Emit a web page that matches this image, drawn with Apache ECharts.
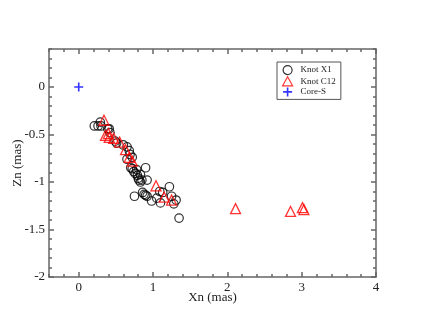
<!DOCTYPE html>
<html>
<head>
<meta charset="utf-8">
<script src="https://cdn.jsdelivr.net/npm/echarts@6/dist/echarts.min.js"></script>
<style>
  html, body { margin: 0; padding: 0; background: #fff; }
  #chart { width: 423px; height: 327px; }
</style>
</head>
<body>
<div id="chart"></div>
<script>
// Knot X1 positions (mas)
const x1Xn = [0.21, 0.26, 0.30, 0.29, 0.39, 0.41, 0.42, 0.49, 0.51, 0.60, 0.65, 0.68, 0.69, 0.65, 0.72,
  0.70, 0.72, 0.74, 0.78, 0.76, 0.79, 0.83, 0.80, 0.81, 0.83, 0.85, 0.90, 0.92, 0.75, 0.86,
  0.88, 0.90, 0.92, 0.98, 1.05, 1.09, 1.13, 1.10, 1.22, 1.25, 1.31, 1.28, 1.35];
const x1Zn = [-0.41, -0.41, -0.41, -0.37, -0.44, -0.44, -0.48, -0.57, -0.59, -0.61, -0.63, -0.67, -0.71, -0.76, -0.74,
  -0.85, -0.86, -0.89, -0.87, -0.91, -0.93, -0.92, -0.96, -0.98, -1.00, -0.98, -0.85, -0.98, -1.15, -1.11,
  -1.13, -1.14, -1.15, -1.20, -1.17, -1.10, -1.11, -1.22, -1.05, -1.15, -1.19, -1.23, -1.38];

// Knot C12 positions (mas)
const c12Xn = [0.34, 0.36, 0.40, 0.41, 0.47, 0.55, 0.63, 0.68, 0.72, 1.04, 1.15, 1.25, 2.11, 2.85, 3.01, 3.03];
const c12Zn = [-0.35, -0.51, -0.49, -0.53, -0.54, -0.58, -0.66, -0.74, -0.78, -1.04, -1.16, -1.19, -1.28, -1.31, -1.27, -1.29];

// Core
const coreXn = [0];
const coreZn = [0];

const xTicks = [0, 1, 2, 3, 4];
const yTicks = [-2, -1.5, -1, -0.5, 0];

const pairs = (xs, ys) => xs.map((x, i) => [x, ys[i]]);

const chart = echarts.init(document.getElementById("chart"));

const frame = { color: "#666", width: 1.5 };
const font = "Liberation Serif, Times New Roman, serif";
const label = { color: "#222", fontFamily: font, fontSize: 13 };

// major + minor axes on each side (minor axes only draw ticks)
const xMajor = (pos) => ({
  type: "value", position: pos, min: -0.4, max: 4,
  axisLine: { show: true, onZero: false, lineStyle: frame },
  axisTick: { show: true, inside: true, length: 5, customValues: xTicks, lineStyle: frame },
  axisLabel: pos === "bottom" ? { show: true, customValues: xTicks, margin: 4, ...label } : { show: false },
  splitLine: { show: false },
});
const xMinor = (pos) => ({
  type: "value", position: pos, min: -0.4, max: 4, interval: 0.2,
  axisLine: { show: false, onZero: false },
  axisTick: { show: true, inside: true, length: 3, lineStyle: frame },
  axisLabel: { show: false },
  splitLine: { show: false },
});
const yMajor = (pos) => ({
  type: "value", position: pos, min: -2, max: 0.4,
  axisLine: { show: true, onZero: false, lineStyle: frame },
  axisTick: { show: true, inside: true, length: 5, customValues: yTicks, lineStyle: frame },
  axisLabel: pos === "left" ? { show: true, customValues: yTicks, margin: 4, ...label } : { show: false },
  splitLine: { show: false },
});
const yMinor = (pos) => ({
  type: "value", position: pos, min: -2, max: 0.4, interval: 0.1,
  axisLine: { show: false, onZero: false },
  axisTick: { show: true, inside: true, length: 3, lineStyle: frame },
  axisLabel: { show: false },
  splitLine: { show: false },
});

const xAxes = [
  { ...xMajor("bottom"), name: "Xn (mas)", nameLocation: "middle", nameGap: 14, nameMoveOverlap: false,
    nameTextStyle: { color: "#222", fontFamily: font, fontSize: 13 } },
  xMinor("bottom"), xMajor("top"), xMinor("top"),
];
const yAxes = [
  { ...yMajor("left"), name: "Zn (mas)", nameLocation: "middle", nameGap: 25, nameMoveOverlap: false,
    nameTextStyle: { color: "#222", fontFamily: font, fontSize: 13 } },
  yMinor("left"), yMajor("right"), yMinor("right"),
];

const plus = "path://M4.1,0h1.8v4.1h4.1v1.8h-4.1v4.1h-1.8v-4.1h-4.1v-1.8h4.1z";

const options = {
  animation: false,
  grid: { left: 49, right: 47, top: 49, bottom: 50 },
  legend: {
    orient: "vertical",
    left: 277,
    top: 62,
    padding: [3, 5, 3, 5],
    itemGap: 1,
    itemWidth: 10,
    itemHeight: 9,
    borderColor: "#555",
    borderWidth: 1,
    textStyle: { color: "#222", fontFamily: font, fontSize: 9, padding: [0, 0, 0, 3] },
    data: [
      { name: "Knot X1", icon: "circle", itemStyle: { color: "transparent", borderColor: "#000", borderWidth: 1.2 } },
      { name: "Knot C12", icon: "triangle", itemStyle: { color: "transparent", borderColor: "#f00", borderWidth: 1.2 } },
      { name: "Core-S", icon: plus, itemStyle: { color: "#00f" } },
    ],
  },
  xAxis: xAxes,
  yAxis: yAxes,
  series: [
    {
      name: "Knot X1", type: "scatter", symbol: "circle", symbolSize: 8.5,
      itemStyle: { color: "transparent", borderColor: "#000", borderWidth: 1.2 },
      data: pairs(x1Xn, x1Zn),
    },
    {
      name: "Knot C12", type: "scatter", symbol: "triangle", symbolSize: 10,
      itemStyle: { color: "transparent", borderColor: "#f00", borderWidth: 1.3 },
      data: pairs(c12Xn, c12Zn),
    },
    {
      name: "Core-S", type: "scatter", symbol: plus, symbolSize: 9,
      itemStyle: { color: "#00f" },
      data: pairs(coreXn, coreZn),
    },
  ],
};

chart.setOption(options);
</script>
</body>
</html>
